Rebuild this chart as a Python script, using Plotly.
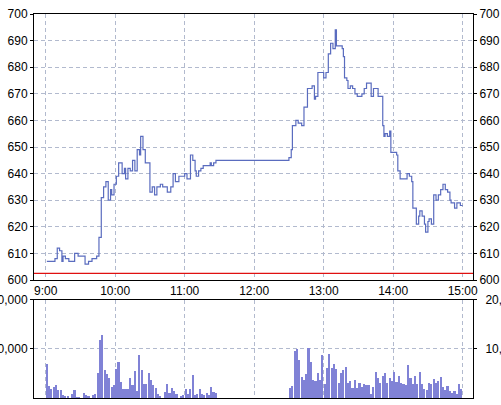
import plotly.graph_objects as go
import pandas as pd

DAY = "2024-01-04 "

# ---- price (step line), change points ----
price_times = [
    "09:01", "09:08", "09:10", "09:12", "09:14", "09:15", "09:17", "09:20", "09:25", "09:28",
    "09:34", "09:37", "09:40", "09:44", "09:46", "09:48", "09:50", "09:52", "09:54", "09:56",
    "09:57", "09:59", "10:01", "10:03", "10:06", "10:08", "10:09", "10:11", "10:13", "10:15",
    "10:17", "10:19", "10:21", "10:22", "10:24", "10:26", "10:30", "10:32", "10:34", "10:36",
    "10:39", "10:41", "10:45", "10:48", "10:50", "10:52", "10:55", "11:00", "11:02", "11:05",
    "11:07", "11:09", "11:10", "11:12", "11:14", "11:16", "11:22", "11:23", "11:25", "11:27",
    "12:30", "12:32", "12:33", "12:36", "12:38", "12:41", "12:43", "12:46", "12:50", "12:52",
    "12:53", "12:55", "13:00", "13:02", "13:04", "13:06", "13:08", "13:10", "13:11", "13:16",
    "13:17", "13:18", "13:20", "13:21", "13:23", "13:25", "13:27", "13:29", "13:33", "13:35",
    "13:37", "13:41", "13:43", "13:47", "13:51", "13:52", "13:53", "13:55", "13:57", "13:58",
    "14:03", "14:04", "14:06", "14:12", "14:14", "14:16", "14:17", "14:20", "14:22", "14:23",
    "14:25", "14:27", "14:28", "14:30", "14:31", "14:33", "14:35", "14:37", "14:39", "14:41",
    "14:43", "14:45", "14:47", "14:49", "14:50", "14:53", "14:55", "14:58", "15:00",
]
price_values = [
    607, 608, 612, 611, 607, 609, 608, 607, 610, 609,
    606, 607, 608, 609, 616, 631, 635, 637, 630, 634,
    632, 636, 639, 644, 640, 642, 638, 642, 641, 645,
    641, 649, 647, 654, 649, 644, 633, 635, 632, 635,
    636, 635, 633, 635, 640, 637, 639, 640, 638, 647,
    645, 641, 639, 641, 642, 643, 644, 643, 644, 645,
    646, 649, 658, 660, 659, 658, 665, 672, 673, 668,
    669, 678, 676, 678, 685, 689, 687, 694, 688, 687,
    684, 676, 675, 672, 673, 672, 670, 669, 670, 672,
    674, 669, 672, 669, 658, 654, 655, 654, 656, 648,
    647, 641, 638, 640, 639, 637, 627, 621, 624, 626,
    624, 621, 618, 622, 623, 621, 632, 630, 632, 634,
    636, 634, 633, 630, 629, 627, 629, 628, 628,
]
REF_LEVEL = 602.5

# ---- volume, 2-minute bars ----
vol_am = [
    7000, 2500, 1900, 2250, 2700, 1800, 1800, 700, 500, 500,
    0, 900, 1800, 400, 300, 0, 1200, 700, 500, 0,
    700, 900, 5200, 11800, 12800, 5700, 4900, 4100, 2400, 2700,
    5900, 7400, 3400, 2000, 1900, 1900, 4100, 2700, 5600, 1600,
    8800, 5700, 2900, 3000, 5100, 3700, 2700, 2200, 1000, 500,
    0, 1400, 2900, 1100, 2200, 1600, 1000, 0, 500, 800,
    1900, 900, 1900, 4700, 700, 1000, 1900, 900, 700, 1100,
    800, 2400, 1400, 1100, 0,
]
vol_pm = [
    2200, 2500, 9600, 10100, 7800, 4300, 3700, 4900, 10300, 7400,
    3700, 3600, 5200, 3700, 8800, 2900, 6100, 9100, 6200, 7100,
    5900, 3100, 5100, 5700, 6300, 3200, 3600, 2200, 3700, 2200,
    3100, 2400, 2900, 2700, 2800, 900, 2400, 5400, 4200, 3200,
    4500, 5200, 3200, 4100, 3600, 5400, 3400, 4500, 3100, 2900,
    2800, 6800, 4200, 2900, 4500, 3000, 5400, 2900, 2000, 1800,
    3200, 2900, 3900, 3100, 3600, 4300, 2400, 1800, 2500, 1600,
    1100, 1600, 1000, 2900, 1900,
]
price_ticks = [600, 610, 620, 630, 640, 650, 660, 670, 680, 690, 700]
vol_ticks = [10000, 20000]
vol_tick_labels = ["10,000", "20,000"]
hour_ticks = ["09:00", "10:00", "11:00", "12:00", "13:00", "14:00", "15:00"]
hour_labels = ["9:00", "10:00", "11:00", "12:00", "13:00", "14:00", "15:00"]

# ---- build ----
pt = pd.to_datetime([DAY + t for t in price_times])
vt = list(pd.date_range(DAY + "09:00", periods=len(vol_am), freq="2min")) + \
     list(pd.date_range(DAY + "12:30", periods=len(vol_pm), freq="2min"))
vv = vol_am + vol_pm
hx = pd.to_datetime([DAY + t for t in hour_ticks])

x_range = [DAY + "08:49:55", DAY + "15:08:55"]

LINE_C = "#5a6cbf"
BAR_C = "#8082d6"
GRID_C = "#b2bace"
FONT = dict(family="Liberation Sans, Arial, sans-serif", size=12, color="#000000")

fig = go.Figure()
fig.add_trace(go.Scatter(x=pt, y=price_values, mode="lines",
                         line=dict(shape="hv", color=LINE_C, width=1.2),
                         xaxis="x", yaxis="y", hoverinfo="skip", showlegend=False))
fig.add_trace(go.Scatter(x=x_range, y=[REF_LEVEL, REF_LEVEL], mode="lines",
                         line=dict(color="#e01010", width=1.3),
                         xaxis="x", yaxis="y", hoverinfo="skip", showlegend=False))
fig.add_trace(go.Bar(x=vt, y=vv, marker=dict(color=BAR_C, line=dict(width=0)),
                     offset=0, width=2 * 60 * 1000 * 0.92,
                     xaxis="x2", yaxis="y2", hoverinfo="skip", showlegend=False))
# invisible traces so the right-side axes are drawn
fig.add_trace(go.Scatter(x=[hx[0]], y=[None], xaxis="x", yaxis="y3", showlegend=False, hoverinfo="skip"))
fig.add_trace(go.Scatter(x=[hx[0]], y=[None], xaxis="x2", yaxis="y4", showlegend=False, hoverinfo="skip"))

grid = dict(showgrid=True, gridcolor=GRID_C, gridwidth=1, griddash="4px,3px")
frame = dict(showline=True, linecolor="#000000", linewidth=1, mirror=True)

fig.update_layout(
    width=501, height=405,
    margin=dict(l=34, r=28, t=14, b=7, pad=0),
    paper_bgcolor="#ffffff", plot_bgcolor="#ffffff",
    font=FONT, bargap=0,
    xaxis=dict(domain=[0, 1], anchor="y", type="date", range=x_range, automargin=False,
               tickvals=hx, ticktext=hour_labels, ticks="", zeroline=False,
               **grid, **frame),
    xaxis2=dict(domain=[0, 1], anchor="y2", type="date", matches="x", automargin=False,
                tickvals=hx, showticklabels=False, ticks="", zeroline=False,
                **grid, **frame),
    yaxis=dict(domain=[0.3073, 1], anchor="x", range=[600, 700], tickvals=price_ticks,
               ticks="outside", ticklen=3, tickcolor="#000000", zeroline=False,
               automargin=False, **grid, **frame),
    yaxis3=dict(overlaying="y", anchor="x", side="right", range=[600, 700],
                tickvals=price_ticks, ticks="outside", ticklen=3, tickcolor="#000000",
                showgrid=False, zeroline=False, showline=False, automargin=False),
    yaxis2=dict(domain=[0, 0.2565], anchor="x2", range=[0, 20000], tickvals=vol_ticks,
                ticktext=vol_tick_labels, ticks="outside", ticklen=3, tickcolor="#000000",
                zeroline=False, automargin=False, **grid, **frame),
    yaxis4=dict(overlaying="y2", anchor="x2", side="right", range=[0, 20000],
                tickvals=vol_ticks, ticktext=vol_tick_labels, ticks="outside", ticklen=3,
                tickcolor="#000000", showgrid=False, zeroline=False, showline=False,
                automargin=False, ticklabelstandoff=6),
)

fig.write_html("out.html", config={"displayModeBar": False},
               post_script="document.body.style.margin='0';")
